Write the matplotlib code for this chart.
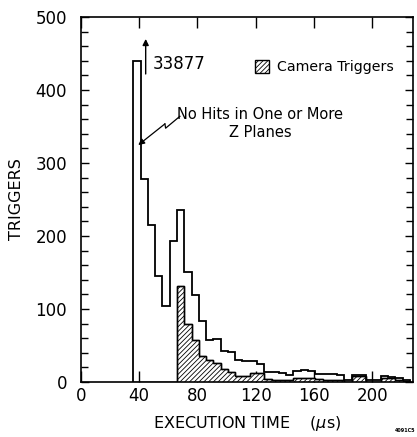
import numpy as np
import matplotlib
matplotlib.use('Agg')
import matplotlib.pyplot as plt
from matplotlib.patches import Patch

# bin edges (execution time, us) -- 5 us bins starting at 36
bin_start = 36
bin_width = 5

# all triggers per bin
all_triggers = [440, 278, 215, 145, 104, 193, 236, 150, 119, 83,
                57, 59, 42, 41, 30, 29, 29, 25, 14, 13,
                12, 9, 15, 16, 15, 11, 11, 11, 10, 2,
                9, 9, 2, 2, 8, 7, 6, 3]

# camera triggers per bin (same binning)
camera_triggers = [0, 0, 0, 0, 0, 0, 132, 80, 58, 36,
                   30, 26, 18, 14, 8, 8, 12, 12, 4, 3,
                   3, 3, 6, 6, 5, 4, 3, 2, 2, 0,
                   8, 8, 0, 0, 6, 5, 3, 1]

x_ticks = [0, 40, 80, 120, 160, 200]
y_ticks = [0, 100, 200, 300, 400, 500]

edges = bin_start + bin_width * np.arange(len(all_triggers) + 1)

plt.rcParams['font.family'] = 'DejaVu Sans'
plt.rcParams['hatch.linewidth'] = 0.6

fig = plt.figure(figsize=(4.17, 4.37), dpi=100)
ax = fig.add_axes([0.194, 0.126, 0.796, 0.835])

# camera triggers (hatched)
ax.stairs(camera_triggers, edges, fill=True, facecolor='white',
          edgecolor='black', hatch='///////', linewidth=1.0, zorder=2)
ax.stairs(camera_triggers, edges, color='black', linewidth=1.0, zorder=3)
# all triggers
ax.stairs(all_triggers, edges, color='black', linewidth=1.3, zorder=4)

ax.set_xlim(0, 228)
ax.set_ylim(0, 500)

ax.set_xticks(x_ticks)
ax.set_yticks(y_ticks)
ax.set_yticks(np.arange(0, 501, 20), minor=True)
ax.tick_params(axis='y', which='both', direction='in', left=True, right=True,
               labelsize=12, pad=10, width=1)
ax.tick_params(axis='y', which='major', length=6)
ax.tick_params(axis='y', which='minor', length=5)
ax.tick_params(axis='x', which='major', direction='in', top=True, bottom=True,
               length=8, width=1, labelsize=12, pad=4)
for t in ax.xaxis.get_major_ticks():
    t.tick1line.set_zorder(5)
for s in ax.spines.values():
    s.set_linewidth(1.2)
    s.set_zorder(6)

ax.set_xlabel('EXECUTION TIME    ($\\mu$s)', fontsize=11.5, labelpad=6)
ax.set_ylabel('TRIGGERS', fontsize=11.5, labelpad=8)

# off-scale arrow for first bin
ax.annotate('', xy=(44.5, 470), xytext=(44.5, 422),
            arrowprops=dict(arrowstyle='-|>', lw=1.0, color='black',
                            mutation_scale=9, shrinkA=0, shrinkB=0))
ax.text(49, 436, '33877', fontsize=12, va='center', ha='left')

# zig-zag pointer
zx = [68.0, 58.2, 57.7]
zy = [364, 347.7, 353.6]
ax.plot(zx, zy, color='black', lw=0.9)
ax.annotate('', xy=(39.4, 324.6), xytext=(57.7, 353.6),
            arrowprops=dict(arrowstyle='-|>', lw=0.9, color='black',
                            mutation_scale=9, shrinkA=0, shrinkB=0))
ax.text(123, 354, 'No Hits in One or More\nZ Planes', fontsize=10.5,
        ha='center', va='center', linespacing=1.3)

leg = ax.legend(handles=[Patch(facecolor='white', edgecolor='black',
                               hatch='///////', label='Camera Triggers')],
                loc='center left', bbox_to_anchor=(0.525, 0.862),
                frameon=False, fontsize=10.2, handlelength=0.95,
                handleheight=1.0, handletextpad=0.6, borderpad=0,
                borderaxespad=0)

fig.text(0.947, 0.012, '4091C5', fontsize=3.5, fontweight='bold')

fig.savefig('out.png', dpi=100)
